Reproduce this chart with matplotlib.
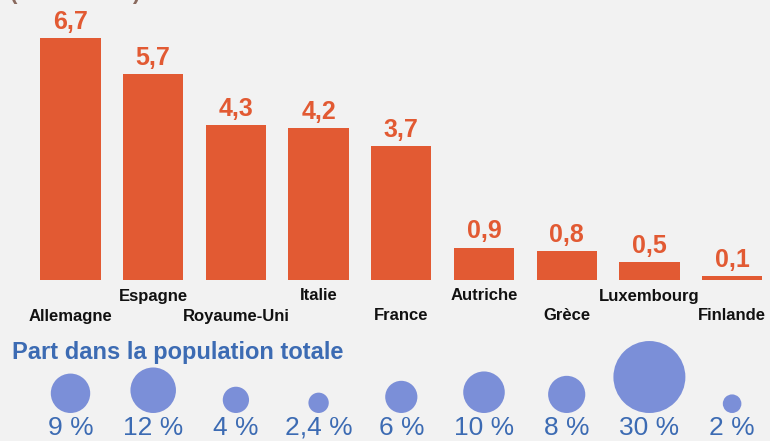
import matplotlib
matplotlib.use("Agg")
import matplotlib.pyplot as plt
import numpy as np
from matplotlib.patches import Circle

countries = ["Allemagne", "Espagne", "Royaume-Uni", "Italie", "France",
             "Autriche", "Grèce", "Luxembourg", "Finlande"]
values = [6.7, 5.7, 4.3, 4.2, 3.7, 0.9, 0.8, 0.5, 0.1]
value_labels = ["6,7", "5,7", "4,3", "4,2", "3,7", "0,9", "0,8", "0,5", "0,1"]
shares = [9, 12, 4, 2.4, 6, 10, 8, 30, 2]
share_labels = ["9 %", "12 %", "4 %", "2,4 %", "6 %", "10 %", "8 %", "30 %", "2 %"]

BG = "#f2f2f2"
ORANGE = "#e25a33"
BLUE = "#3c6bb3"
BUBBLE = "#7b8fd8"
W, H = 770, 441

plt.rcParams["font.family"] = ["Liberation Sans", "DejaVu Sans"]

fig = plt.figure(figsize=(W / 100, H / 100), dpi=100, facecolor=BG)

# bar panel: baseline at y=280px from top, 36.1 px per unit
step = 82.7
left_px = 70.5 - step / 2
ax = fig.add_axes([left_px / W, (H - 280) / H, 9 * step / W, 7 * 36.1 / H])
ax.set_facecolor("none")
x = np.arange(len(countries))
ax.bar(x, values, width=0.73, color=ORANGE)
for xi, v, lab in zip(x, values, value_labels):
    ax.annotate(lab, (xi, v), xytext=(0, 3), textcoords="offset points",
                ha="center", va="bottom", fontsize=18, fontweight="bold",
                color=ORANGE)
ax.set_xlim(-0.5, len(countries) - 0.5)
ax.set_ylim(0, 7)
ax.axis("off")
for xi, name in zip(x, countries):
    lower = xi % 2 == 0
    ax.annotate(name, (xi, 0), xytext=(0, -36 if lower else -16),
                textcoords="offset pixels", ha="center", va="center",
                fontsize=12, fontweight="bold", color="#111111")

# bubble panel in pixel coordinates
axb = fig.add_axes([0, 0, 1, 1])
axb.set_xlim(0, W)
axb.set_ylim(0, H)
axb.set_facecolor("none")
axb.axis("off")
base = H - 413
for i, (s, lab) in enumerate(zip(shares, share_labels)):
    cx = 70.5 + step * i
    r = 6.57 * np.sqrt(s)
    axb.add_patch(Circle((cx, base + r), r, color=BUBBLE, lw=0))
    axb.text(cx, H - 435, lab, ha="center", va="baseline", fontsize=19,
             color=BLUE)

axb.text(12, H - 352, "Part dans la population totale", ha="left",
         va="center", fontsize=17, fontweight="bold", color=BLUE)
axb.text(10, H + 1, "(en millions)", ha="left", va="baseline", fontsize=16,
         fontweight="bold", color="#8a6a5e", clip_on=False)

fig.savefig("out.png", dpi=100, facecolor=BG)
